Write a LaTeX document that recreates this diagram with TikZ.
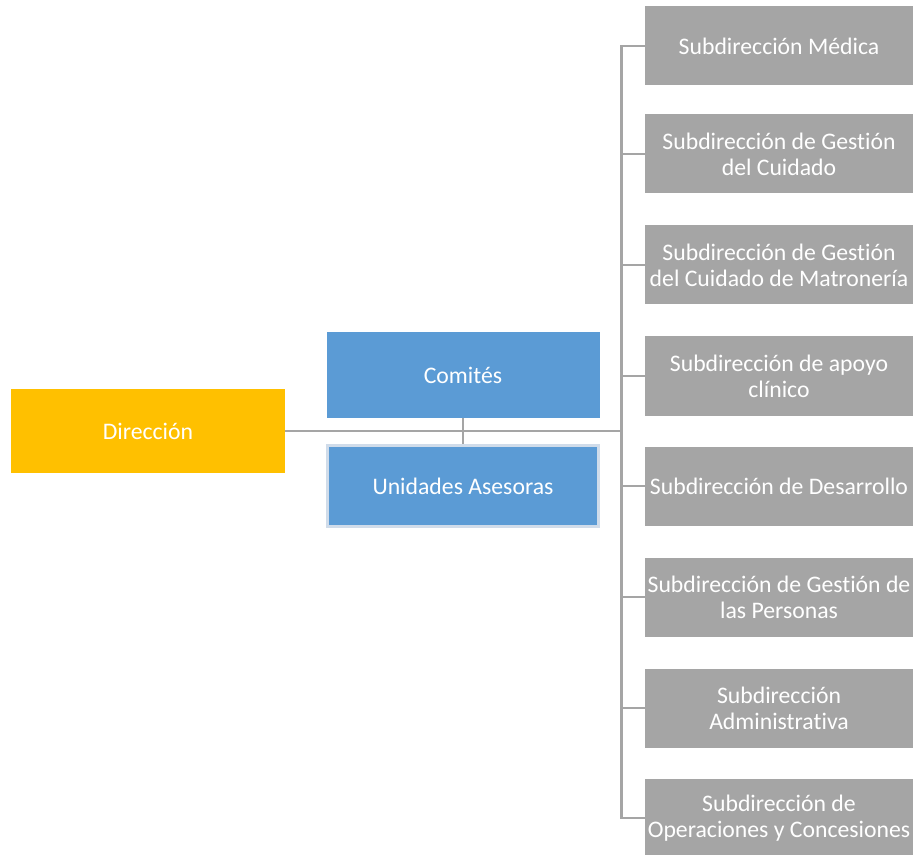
\documentclass[tikz,border=0pt]{standalone}
\usepackage{fontspec}
\setmainfont{Carlito}[Ligatures=NoCommon]
\usepackage{tikz}
\usetikzlibrary{positioning}
\definecolor{oro}{HTML}{FFC000}
\definecolor{azul}{HTML}{5B9BD5}
\definecolor{gris}{HTML}{A5A5A5}
\definecolor{linea}{HTML}{A5A5A5}
\definecolor{borde}{HTML}{D0DCEA}

\begin{document}
\begin{tikzpicture}[
  caja/.style={inner sep=0pt,text=white,align=center,font=\fontsize{13.5}{14.7}\selectfont},
  direc/.style={caja,fill=oro,minimum width=5.48cm,minimum height=1.68cm},
  apoyo/.style={caja,fill=azul,minimum width=5.46cm,minimum height=1.7cm},
  subdir/.style={caja,fill=gris,minimum width=5.36cm,minimum height=1.58cm},
  conector/.style={draw=linea,line width=1.6pt}
]
\useasboundingbox (0,0) rectangle (18.34,-17.1);

% Direccion and staff units
\node[direc] (dir) at (2.96,-8.62) {Dirección};
\node[apoyo] (com) at (9.26,-7.5) {Comités};
\node[apoyo,minimum width=5.42cm,minimum height=1.62cm,draw=borde,line width=1.5pt] (uni) at (9.26,-9.72) {Unidades Asesoras};

% Subdirecciones
\foreach \i/\y/\txt in {
  1/0.92/{Subdirección Médica},
  2/3.08/{Subdirección de Gestión\\del Cuidado},
  3/5.30/{Subdirección de Gestión\\del Cuidado de Matronería},
  4/7.52/{Subdirección de apoyo\\clínico},
  5/9.72/{Subdirección de Desarrollo},
  6/11.94/{Subdirección de Gestión de\\las Personas},
  7/14.16/{Subdirección\\Administrativa},
  8/16.36/{Subdirección de\\Operaciones y Concesiones}} {
    \node[subdir] (s\i) at (15.58,-\y) {\txt};
}

% Connectors
\coordinate (bus) at (12.44,-8.62);
\draw[conector] (s1.west) -- ++(-0.46,0) |- (s8.west);
\foreach \i in {2,...,7} {
    \draw[conector] (s\i.west) -- ++(-0.46,0);
}
\draw[conector] (dir.east) -- (bus);
\draw[conector] (com.south) -- (uni.north);
\end{tikzpicture}
\end{document}
